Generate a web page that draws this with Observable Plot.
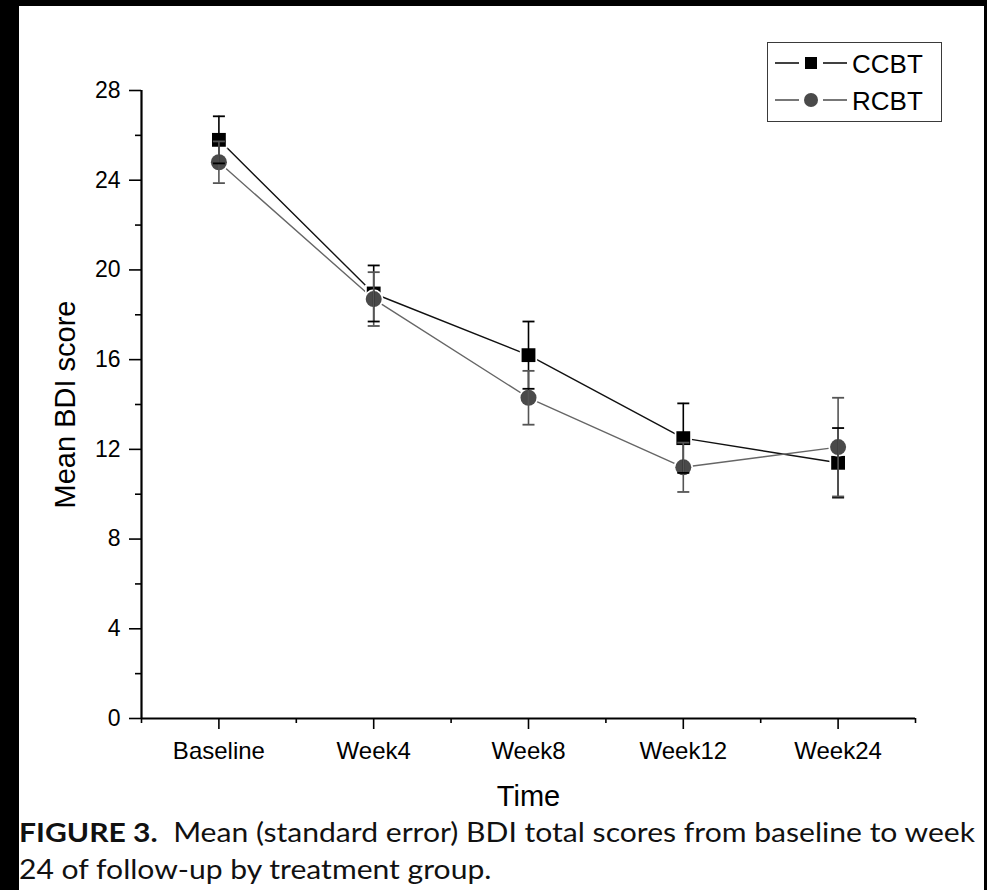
<!DOCTYPE html>
<html>
<head>
<meta charset="utf-8">
<script src="https://cdn.jsdelivr.net/npm/d3@7"></script>
<script src="https://cdn.jsdelivr.net/npm/@observablehq/plot@0.6"></script>
<style>
  html, body { margin: 0; padding: 0; }
  body { width: 987px; height: 890px; background: #000; position: relative; overflow: hidden; }
  #paper { position: absolute; left: 19px; top: 6px; width: 965px; height: 884px; background: #fff; }
  #chart { position: absolute; left: 0; top: 0; }
  #legend { position: absolute; left: 767px; top: 42px; width: 175px; height: 80px; box-sizing: border-box;
            border: 1.5px solid #3a3a3a; background: #fff; font-family: "Liberation Sans", Arial, sans-serif; }
  #caption { position: absolute; left: 19px; top: 813px; font-family: Lato, "Open Sans", sans-serif; font-size: 27px;
             line-height: 37px; color: #111; white-space: nowrap; transform-origin: 0 0; }
  #caption b { font-weight: 700; }
</style>
</head>
<body>
<div id="paper"></div>
<div id="chart"></div>
<div id="legend"></div>
<div id="caption"></div>
<script>
// ---- data ----
const timeLabels = ["Baseline", "Week4", "Week8", "Week12", "Week24"];
const ccbtMean = [25.8, 18.95, 16.2, 12.5, 11.4];
const ccbtSE   = [1.05, 1.25, 1.5, 1.55, 1.55];
const rcbtMean = [24.8, 18.7, 14.3, 11.2, 12.1];
const rcbtSE   = [0.93, 1.2, 1.2, 1.1, 2.2];
const yMajorTicks = [0, 4, 8, 12, 16, 20, 24, 28];
const yMinorTicks = [2, 6, 10, 14, 18, 22, 26];
const xMajorTicks = [1, 2, 3, 4, 5];
const xMinorTicks = [0.5, 1.5, 2.5, 3.5, 4.5, 5.5];
const groups = ["CCBT", "RCBT"];
const yLabel = "Mean BDI score";
const xLabel = "Time";
const captionBold = "FIGURE 3.";
const captionLine1 = "Mean (standard error) BDI total scores from baseline to week";
const captionLine2 = "24 of follow-up by treatment group.";

const mk = (means, ses, g) => means.map((m, i) => ({
  t: i + 1, label: timeLabels[i], group: g, mean: m, lo: m - ses[i], hi: m + ses[i]
}));
const ccbt = mk(ccbtMean, ccbtSE, groups[0]);
const rcbt = mk(rcbtMean, rcbtSE, groups[1]);

const cap = { draw(ctx, size) { const w = 6; ctx.moveTo(-w, 0); ctx.lineTo(w, 0); } };

const font = "Liberation Sans, Arial, sans-serif";
const chart = Plot.plot({
  width: 987,
  height: 820,
  marginLeft: 141,
  marginRight: 72,
  marginTop: 90,
  marginBottom: 102,
  style: { fontFamily: font, fontSize: "23px", color: "#000", background: "transparent", overflow: "visible" },
  x: { domain: [0.5, 5.5] },
  y: { domain: [0, 28] },
  marks: [
    Plot.axisY({ ticks: yMinorTicks, tickSize: 6, tickFormat: () => "", strokeWidth: 1.6, label: null }),
    Plot.axisY({ ticks: yMajorTicks, tickSize: 12, tickPadding: 9, strokeWidth: 1.6, label: null, fontSize: 23 }),
    Plot.axisX({ ticks: xMinorTicks, tickSize: 5, tickFormat: () => "", strokeWidth: 1.6, label: null }),
    Plot.axisX({ ticks: xMajorTicks, tickSize: 11, tickPadding: 12, strokeWidth: 1.6, label: null,
                 tickFormat: (d) => timeLabels[d - 1], fontSize: 24 }),
    Plot.ruleX([0.5], { y1: 0, y2: 28, stroke: "#000", strokeWidth: 2.2 }),
    Plot.ruleY([0], { x1: 0.5, x2: 5.5, stroke: "#000", strokeWidth: 2.2 }),
    Plot.line(ccbt, { x: "t", y: "mean", stroke: "#111", strokeWidth: 1.4 }),
    Plot.line(rcbt, { x: "t", y: "mean", stroke: "#666", strokeWidth: 1.4 }),
    Plot.dot(ccbt, { x: "t", y: "mean", symbol: "square", r: 7.8, fill: "#000", stroke: "#fff", strokeWidth: 3.5, paintOrder: "stroke" }),
    Plot.dot(rcbt, { x: "t", y: "mean", symbol: "circle", r: 8, fill: "#4a4a4a", stroke: "#fff", strokeWidth: 3.5, paintOrder: "stroke" }),
    Plot.ruleX(ccbt, { x: "t", y1: "lo", y2: "hi", stroke: "#000", strokeWidth: 1.6 }),
    Plot.ruleX(rcbt, { x: "t", y1: "lo", y2: "hi", stroke: "#555", strokeWidth: 1.6 }),
    Plot.dot(ccbt, { x: "t", y: "hi", symbol: cap, stroke: "#000", strokeWidth: 1.8 }),
    Plot.dot(ccbt, { x: "t", y: "lo", symbol: cap, stroke: "#000", strokeWidth: 1.8 }),
    Plot.dot(rcbt, { x: "t", y: "hi", symbol: cap, stroke: "#555", strokeWidth: 1.8 }),
    Plot.dot(rcbt, { x: "t", y: "lo", symbol: cap, stroke: "#555", strokeWidth: 1.8 }),
    Plot.text([yLabel], { frameAnchor: "left", dx: -76, rotate: -90, textAnchor: "middle", fontSize: 29, fill: "#000" }),
    Plot.text([xLabel], { frameAnchor: "bottom", dy: 87, fontSize: 29, fill: "#000" })
  ]
});
document.getElementById("chart").appendChild(chart);

// ---- legend ----
const legend = document.getElementById("legend");
const ns = "http://www.w3.org/2000/svg";
const lsvg = document.createElementNS(ns, "svg");
lsvg.setAttribute("width", 172);
lsvg.setAttribute("height", 77);
lsvg.style.position = "absolute";
lsvg.style.left = "0"; lsvg.style.top = "0";
const legendItems = [
  { name: groups[0], color: "#000", line: "#111", shape: "square", cy: 20 },
  { name: groups[1], color: "#4a4a4a", line: "#555", shape: "circle", cy: 57 }
];
for (const it of legendItems) {
  const l1 = document.createElementNS(ns, "line");
  l1.setAttribute("x1", 7); l1.setAttribute("x2", 31); l1.setAttribute("y1", it.cy); l1.setAttribute("y2", it.cy);
  l1.setAttribute("stroke", it.line); l1.setAttribute("stroke-width", 1.6);
  const l2 = document.createElementNS(ns, "line");
  l2.setAttribute("x1", 55); l2.setAttribute("x2", 79); l2.setAttribute("y1", it.cy); l2.setAttribute("y2", it.cy);
  l2.setAttribute("stroke", it.line); l2.setAttribute("stroke-width", 1.6);
  lsvg.appendChild(l1); lsvg.appendChild(l2);
  let s;
  if (it.shape === "square") {
    s = document.createElementNS(ns, "rect");
    s.setAttribute("x", 37); s.setAttribute("y", it.cy - 6); s.setAttribute("width", 12); s.setAttribute("height", 12);
  } else {
    s = document.createElementNS(ns, "circle");
    s.setAttribute("cx", 43); s.setAttribute("cy", it.cy); s.setAttribute("r", 7);
  }
  s.setAttribute("fill", it.color);
  lsvg.appendChild(s);
  const tx = document.createElementNS(ns, "text");
  tx.setAttribute("x", 84); tx.setAttribute("y", it.cy + 9.5);
  tx.setAttribute("font-size", 26); tx.setAttribute("font-family", font); tx.setAttribute("fill", "#000");
  tx.textContent = it.name;
  lsvg.appendChild(tx);
}
legend.appendChild(lsvg);

// ---- caption ----
const capEl = document.getElementById("caption");
const b = document.createElement("b"); b.textContent = captionBold;
capEl.appendChild(b);
capEl.appendChild(document.createTextNode("\u00a0\u00a0" + captionLine1));
capEl.appendChild(document.createElement("br"));
capEl.appendChild(document.createTextNode(captionLine2));
const w = capEl.getBoundingClientRect().width;
capEl.style.transform = `scaleX(${956 / w})`;
</script>
</body>
</html>
